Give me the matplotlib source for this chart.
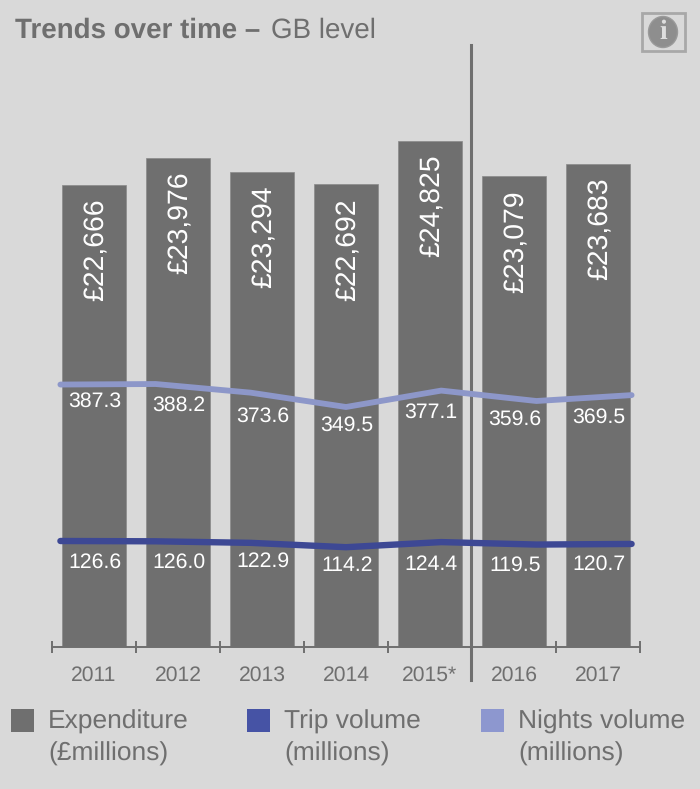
import numpy as np
import matplotlib
matplotlib.use('Agg')
import matplotlib.pyplot as plt
from matplotlib.patches import Rectangle, Ellipse

plt.rcParams['font.family'] = ['Liberation Sans', 'DejaVu Sans']
plt.rcParams['text.hinting'] = 'no_hinting'

years = ['2011', '2012', '2013', '2014', '2015*', '2016', '2017']
expenditure = [22666, 23976, 23294, 22692, 24825, 23079, 23683]
nights = [387.3, 388.2, 373.6, 349.5, 377.1, 359.6, 369.5]
trips = [126.6, 126.0, 122.9, 114.2, 124.4, 119.5, 120.7]

legend_names = ['Expenditure\n(£millions)', 'Trip volume\n(millions)', 'Nights volume\n(millions)']

BG = '#d9d9d9'
GREY = '#6f6f6f'
TRIP_LINE = '#3d4894'
TRIP_KEY = '#4653a5'
NIGHT_LINE = '#8d97c9'
NIGHT_KEY = '#8d97cf'

W, H = 700, 789


# pixel position from the top left -> figure fraction
def px(x, y):
    return x / W, 1 - y / H


fig = plt.figure(figsize=(W / 100, H / 100), dpi=100, facecolor=BG)

left, right, top, bottom = 52, 640, 45, 647
ax = fig.add_axes([left / W, 1 - bottom / H, (right - left) / W, (bottom - top) / H])
ax.patch.set_alpha(0)
pos = np.arange(len(years))

ax.bar(pos, expenditure, width=0.77, color=GREY, edgecolor='#8a8a8a', linewidth=0.5)
ax.set_xlim(-0.5, 6.5)
ax.set_ylim(0, (bottom - top) / 0.0204)

for s in ['top', 'left', 'right']:
    ax.spines[s].set_visible(False)
ax.spines['bottom'].set_color(GREY)
ax.spines['bottom'].set_linewidth(1.4)
ax.set_yticks([])

# ticks sit on the boundaries, labels between them
ax.set_xticks(np.arange(-0.5, 7, 1))
ax.set_xticklabels([])
ax.tick_params(axis='x', which='major', direction='inout', length=9, width=1.4, color=GREY)
ax.set_xticks(pos, minor=True)
ax.set_xticklabels(years, minor=True, fontsize=15.2, color=GREY)
ax.tick_params(axis='x', which='minor', length=0, pad=13.5)

for x, v in zip(pos, expenditure):
    ax.annotate('£{:,}'.format(v), (x, v), xytext=(2, -14), textcoords='offset pixels',
                rotation=90, ha='center', va='top', color='white', fontsize=20.4)

# the two lines have their own scales and run wider than the bars
line_x = np.linspace(-0.4, 6.4, len(years))

ax_n = ax.twinx()
ax_n.set_ylim((614.6 - bottom) / 0.594, (614.6 - top) / 0.594)
ax_n.plot(line_x, nights, color=NIGHT_LINE, lw=4.2, solid_capstyle='round', solid_joinstyle='round')
ax_n.axis('off')

ax_t = ax.twinx()
ax_t.set_ylim((604.3 - bottom) / 0.5, (604.3 - top) / 0.5)
ax_t.plot(line_x, trips, color=TRIP_LINE, lw=4.6, solid_capstyle='round', solid_joinstyle='round')
ax_t.axis('off')

night_label_y = [401, 405, 416, 425, 412, 419, 417]
trip_label_y = [562, 562, 561, 566, 565, 565, 564]
trans = ax.get_xaxis_transform()
for i in range(len(years)):
    ax_t.text(i + 0.015, (bottom - night_label_y[i]) / (bottom - top), '{:.1f}'.format(nights[i]),
              transform=trans, ha='center', va='center', color='white', fontsize=15.3)
    ax_t.text(i + 0.015, (bottom - trip_label_y[i]) / (bottom - top), '{:.1f}'.format(trips[i]),
              transform=trans, ha='center', va='center', color='white', fontsize=15.3)

# divider between 2015 and 2016
ax.plot([4.49, 4.49], [1, -33 / (bottom - top)], transform=trans, color=GREY, lw=2.2,
        clip_on=False, zorder=5)

# title
tx, ty = px(15, 30)
fig.text(tx, ty, 'Trends over time –', fontsize=20, fontweight='bold', color=GREY, va='center')
tx, ty = px(271, 30)
fig.text(tx, ty, 'GB level', fontsize=20, color=GREY, va='center')

# legend
key_colors = [GREY, TRIP_KEY, NIGHT_KEY]
key_x = [11, 247, 481]
for name, c, kx in zip(legend_names, key_colors, key_x):
    x0, y0 = px(kx, 732)
    fig.add_artist(Rectangle((x0, y0), 23 / W, 23 / H, transform=fig.transFigure, facecolor=c, edgecolor='none'))
    tx, ty = px(kx + 37, 738)
    fig.text(tx, ty, name, fontsize=19, color=GREY, va='center', linespacing=1.42)

# info icon
x0, y0 = px(642, 51)
fig.add_artist(Rectangle((x0, y0), 43 / W, 38 / H, transform=fig.transFigure,
                         facecolor='none', edgecolor='#a8a8a8', linewidth=2))
cx, cy = px(663, 32)
fig.add_artist(Ellipse((cx, cy), 29 / W, 31 / H, transform=fig.transFigure, facecolor='#8e8e8e', edgecolor='#9a9a9a'))
fig.text(cx, cy, 'i', fontsize=20, fontweight='bold', family='Liberation Serif', color='#dedede', ha='center', va='center')

fig.savefig('out.png', dpi=100, facecolor=BG)
